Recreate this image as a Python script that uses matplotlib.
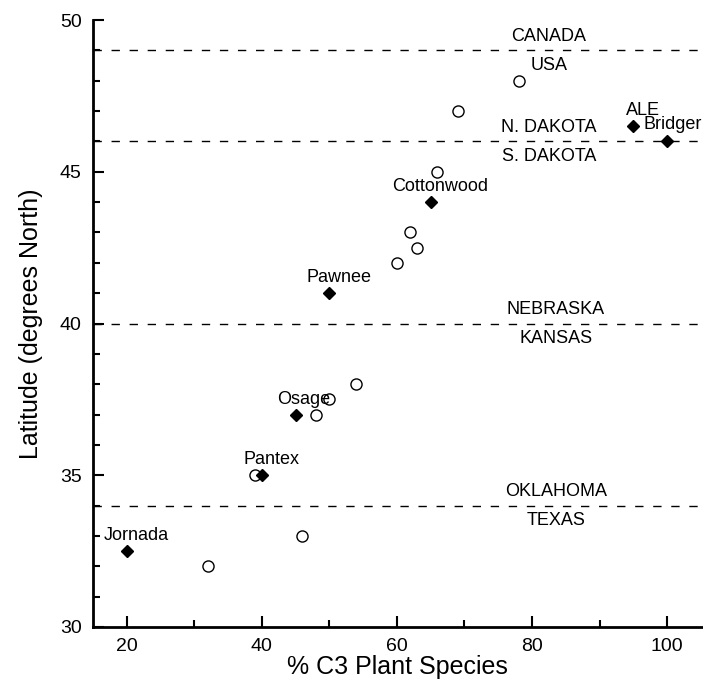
"""Latitude vs % C3 plant species, with state border lines."""
import numpy as np, matplotlib
matplotlib.use('Agg')
import matplotlib.pyplot as plt
from matplotlib.ticker import MultipleLocator

plt.rcParams['font.family'] = ['Liberation Sans', 'DejaVu Sans']

# --- named sites (filled diamonds) ---
site_names = ['Jornada', 'Pantex', 'Osage', 'Pawnee', 'Cottonwood', 'ALE', 'Bridger']
site_c3 = [20, 40, 45, 50, 65, 95, 100]
site_lat = [32.5, 35, 37, 41, 44, 46.5, 46]

# --- other sites (open circles) ---
other_c3 = [32, 46, 39, 48, 50, 54, 60, 62, 63, 66, 69, 78]
other_lat = [32, 33, 35, 37, 37.5, 38, 42, 43, 42.5, 45, 47, 48]

# --- state borders ---
border_lat = [49, 46, 40, 34]
north_names = ['CANADA', 'N. DAKOTA', 'NEBRASKA', 'OKLAHOMA']
south_names = ['USA', 'S. DAKOTA', 'KANSAS', 'TEXAS']

# label offsets (points) for the site names
site_offsets = [(7, 5), (7, 5), (6, 5), (7, 5), (7, 5), (7, 5), (4, 6)]
border_label_x = [82.5, 82.5, 83.5, 83.5]

fig = plt.figure(figsize=(7.03, 6.81), dpi=100)
ax = fig.add_axes([0.132, 0.0793, 0.868, 0.8913])

for lat, nn, sn, bx in zip(border_lat, north_names, south_names, border_label_x):
    ax.axhline(lat, color='black', lw=1.0, dashes=(6, 7), zorder=1)
    ax.text(bx, lat + 0.17, nn, ha='center', va='bottom', fontsize=13)
    ax.text(bx, lat - 0.22, sn, ha='center', va='top', fontsize=13)

ax.plot(other_c3, other_lat, 'o', ms=8, mfc='white', mec='black', mew=1.0,
        linestyle='none', zorder=3)
ax.plot(site_c3, site_lat, 'D', ms=6, color='black', linestyle='none', zorder=4)

for name, x, y, off in zip(site_names, site_c3, site_lat, site_offsets):
    ax.annotate(name, (x, y), xytext=off, textcoords='offset points',
                ha='center', va='bottom', fontsize=13, zorder=5)

ax.set_xlim(15, 105.3)
ax.set_ylim(30, 50)
ax.xaxis.set_major_locator(MultipleLocator(20))
ax.xaxis.set_minor_locator(MultipleLocator(10))
ax.yaxis.set_major_locator(MultipleLocator(5))
ax.yaxis.set_minor_locator(MultipleLocator(1))
ax.tick_params(which='both', direction='in', width=1.5, labelsize=14)
ax.tick_params(which='major', length=8, pad=8)
ax.tick_params(which='minor', length=5)

for s in ['top', 'right']:
    ax.spines[s].set_visible(False)
for s in ['left', 'bottom']:
    ax.spines[s].set_linewidth(2)

ax.set_xlabel('% C3 Plant Species', fontsize=18, labelpad=0)
ax.set_ylabel('Latitude (degrees North)', fontsize=18, labelpad=12)

fig.savefig('out.png', dpi=100)
